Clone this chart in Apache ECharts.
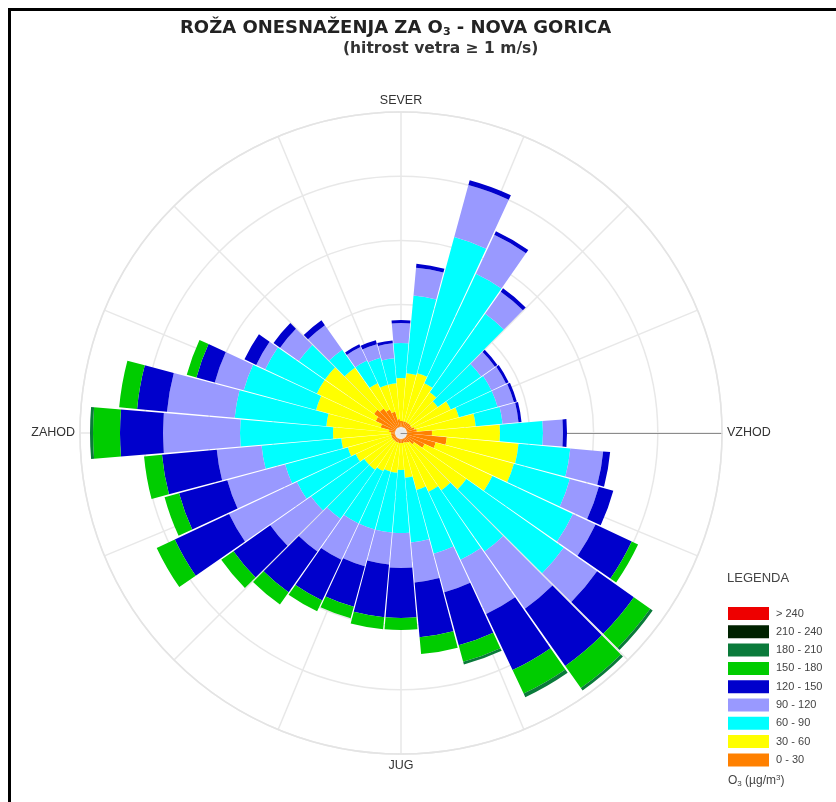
<!DOCTYPE html>
<html>
<head>
<meta charset="utf-8">
<script src="https://cdn.jsdelivr.net/npm/echarts@6/dist/echarts.min.js"></script>
<style>
  html, body { margin: 0; padding: 0; background: #fff; }
  #chart { width: 836px; height: 802px; }
</style>
</head>
<body>
<div id="chart"></div>
<script>
// Wind directions (degrees, clockwise from north), 10° sectors
const directions = [0,10,20,30,40,50,60,70,80,90,100,110,120,130,140,150,160,170,
                    180,190,200,210,220,230,240,250,260,270,280,290,300,310,320,330,340,350];

// Concentration classes of O3 (µg/m³), from the centre outwards
const classNames = ['0 - 30','30 - 60','60 - 90','90 - 120','120 - 150','150 - 180','180 - 210','210 - 240','> 240'];
const classColors = ['#FF8000','#FFFF00','#00FFFF','#9999FF','#0000CC','#00CC00','#0A7A3A','#002200','#EE0000'];

// Frequency (‰) of each class per direction sector
const c0_30 = [0.6,0.6,0.6,0.6,0.6,0.6,0.6,0.8,1.0,2.5,4.0,3.0,2.0,1.0,0.6,0.5,0.4,0.4,
               0.4,0.4,0.4,0.4,0.4,0.4,0.4,0.4,0.4,0.4,0.6,1.5,2.2,2.7,2.4,2.0,1.6,0.8];
const c30_60 = [4.3,4.8,5.0,4.3,3.8,3.3,4.3,4.6,5.9,6.8,7.2,8.1,7.5,6.4,5.8,5.4,4.9,3.5,
                2.7,3.0,3.0,3.2,3.5,3.5,4.0,4.5,5.0,5.8,6.3,6.7,6.5,6.0,5.0,2.9,2.8,3.6];
const c60_90 = [3.5,7.8,14.1,12.1,9.6,5.3,4.5,4.0,2.7,4.3,5.2,5.8,8.9,11.9,7.5,7.5,6.6,6.5,
                6.3,6.0,6.0,5.8,6.0,6.5,6.5,6.5,8.0,9.3,9.2,7.5,5.7,3.2,2.2,2.5,2.8,2.5];
const c90_120 = [2.0,2.8,5.4,4.3,2.7,1.7,1.6,1.7,1.6,2.0,3.3,3.0,2.5,4.1,7.0,6.0,4.0,4.0,
                 3.5,3.2,3.8,4.0,4.0,5.0,7.5,6.0,4.5,7.7,6.8,3.0,1.0,2.3,3.0,1.5,1.4,1.5];
const c120_150 = [0.3,0.4,0.5,0.4,0.4,0.3,0.3,0.3,0.3,0.4,0.7,1.5,4.0,4.5,7.0,6.2,5.5,5.5,
                  5.0,5.3,4.2,4.5,5.0,4.5,6.0,5.0,5.5,4.3,3.0,1.9,1.3,0.8,0.6,0.3,0.4,0.3];
const c150_180 = [0,0,0,0,0,0,0,0,0,0,0,0,0.7,2.0,2.7,2.6,1.7,1.7,
                  1.2,1.2,1.2,1.2,1.5,1.5,2.0,1.5,1.8,2.7,1.8,1.0,0,0,0,0,0,0];
const c180_210 = [0,0,0,0,0,0,0,0,0,0,0,0,0,0.3,0.3,0.4,0.3,0,
                  0,0,0,0,0,0,0,0,0,0.3,0,0,0,0,0,0,0,0];
const c210_240 = [0,0,0,0,0,0,0,0,0,0,0,0,0,0,0,0,0,0,
                  0,0,0,0,0,0,0,0,0,0,0,0,0,0,0,0,0,0];
const cOver240 = [0,0,0,0,0,0,0,0,0,0,0,0,0,0,0,0,0,0,
                  0,0,0,0,0,0,0,0,0,0,0,0,0,0,0,0,0,0];

const classData = [c0_30, c30_60, c60_90, c90_120, c120_150, c150_180, c180_210, c210_240, cOver240];

// Compass labels on the grid (grid angle axis runs clockwise from east)
const compassLabels = { 0: 'VZHOD', 90: 'JUG', 180: 'ZAHOD', 270: 'SEVER' };

const FONT = 'Liberation Sans, Arial, sans-serif';
const TITLE_FONT = 'DejaVu Sans, Liberation Sans, sans-serif';
const CENTER = [401, 433];

const chart = echarts.init(document.getElementById('chart'), null, { renderer: 'canvas' });

const series = classNames.map((name, i) => ({
  name: name,
  type: 'bar',
  coordinateSystem: 'polar',
  polarIndex: 0,
  stack: 'o3',
  barCategoryGap: '4%',
  itemStyle: { color: classColors[i] },
  emphasis: { disabled: true },
  // empty classes are left out of the sector so no hairline is drawn
  data: classData[i].map(v => (v > 0 ? v : '-'))
}));

chart.setOption({
  backgroundColor: '#ffffff',
  animation: false,
  title: [
    {
      text: 'ROŽA ONESNAŽENJA ZA O{s|3} - NOVA GORICA',
      left: 180, top: 18, padding: 0,
      textStyle: {
        fontFamily: TITLE_FONT, fontSize: 18, fontWeight: 'bold', color: '#222',
        rich: { s: { fontFamily: TITLE_FONT, fontSize: 11, fontWeight: 'bold', color: '#222', padding: [9, 0, 0, 0] } }
      }
    },
    {
      text: '(hitrost vetra ≥ 1 m/s)',
      left: 343, top: 41, padding: 0,
      textStyle: { fontFamily: TITLE_FONT, fontSize: 15.5, fontWeight: 'bold', color: '#333' }
    },
    {
      text: 'LEGENDA',
      left: 727, top: 572, padding: 0,
      textStyle: { fontFamily: FONT, fontSize: 13, fontWeight: 'normal', color: '#444' }
    },
    {
      text: 'O{s|3} (µg/m{p|3})',
      left: 728, top: 774, padding: 0,
      textStyle: {
        fontFamily: FONT, fontSize: 12, fontWeight: 'normal', color: '#444',
        rich: {
          s: { fontFamily: FONT, fontSize: 8, color: '#444', padding: [6, 0, 0, 0] },
          p: { fontFamily: FONT, fontSize: 8, color: '#444', padding: [0, 0, 6, 0] }
        }
      }
    }
  ],
  legend: {
    orient: 'vertical',
    left: 728, top: 607, padding: 0,
    itemWidth: 41, itemHeight: 13, itemGap: 5.3,
    icon: 'rect',
    selectedMode: false,
    data: classNames.slice().reverse(),
    textStyle: { fontFamily: FONT, fontSize: 11, color: '#444', padding: [0, 0, 0, 2] }
  },
  polar: [
    { center: CENTER, radius: [6, 321] },
    { center: CENTER, radius: [0, 321] }
  ],
  angleAxis: [
    {
      polarIndex: 0,
      type: 'category',
      data: directions,
      startAngle: 95,
      clockwise: true,
      boundaryGap: true,
      axisLine: { show: false },
      axisTick: { show: false },
      axisLabel: { show: false },
      splitLine: { show: false }
    },
    {
      polarIndex: 1,
      type: 'value',
      min: 0, max: 360, interval: 22.5,
      startAngle: 0,
      clockwise: true,
      axisLine: { show: true, lineStyle: { color: '#e4e4e4', width: 1.5 } },
      axisTick: { show: false },
      splitLine: { show: true, lineStyle: { color: '#e8e8e8', width: 1.5 } },
      axisLabel: {
        show: true, margin: 5,
        fontFamily: FONT, fontSize: 12.5, color: '#333',
        formatter: v => compassLabels[v] || ''
      }
    }
  ],
  radiusAxis: [
    { polarIndex: 0, type: 'value', min: 0, max: 31.5, show: false },
    {
      polarIndex: 1, type: 'value', min: 0, max: 5, interval: 1,
      axisLine: { show: true, lineStyle: { color: '#8c8c8c', width: 1 } },
      axisTick: { show: false },
      axisLabel: { show: false },
      splitLine: { show: true, lineStyle: { color: '#e8e8e8', width: 1.5 } }
    }
  ],
  graphic: [
    { type: 'rect', shape: { x: 8, y: 8, width: 828, height: 3 }, style: { fill: '#000' }, silent: true },
    { type: 'rect', shape: { x: 8, y: 8, width: 3, height: 794 }, style: { fill: '#000' }, silent: true }
  ],
  series: series
});
</script>
</body>
</html>
